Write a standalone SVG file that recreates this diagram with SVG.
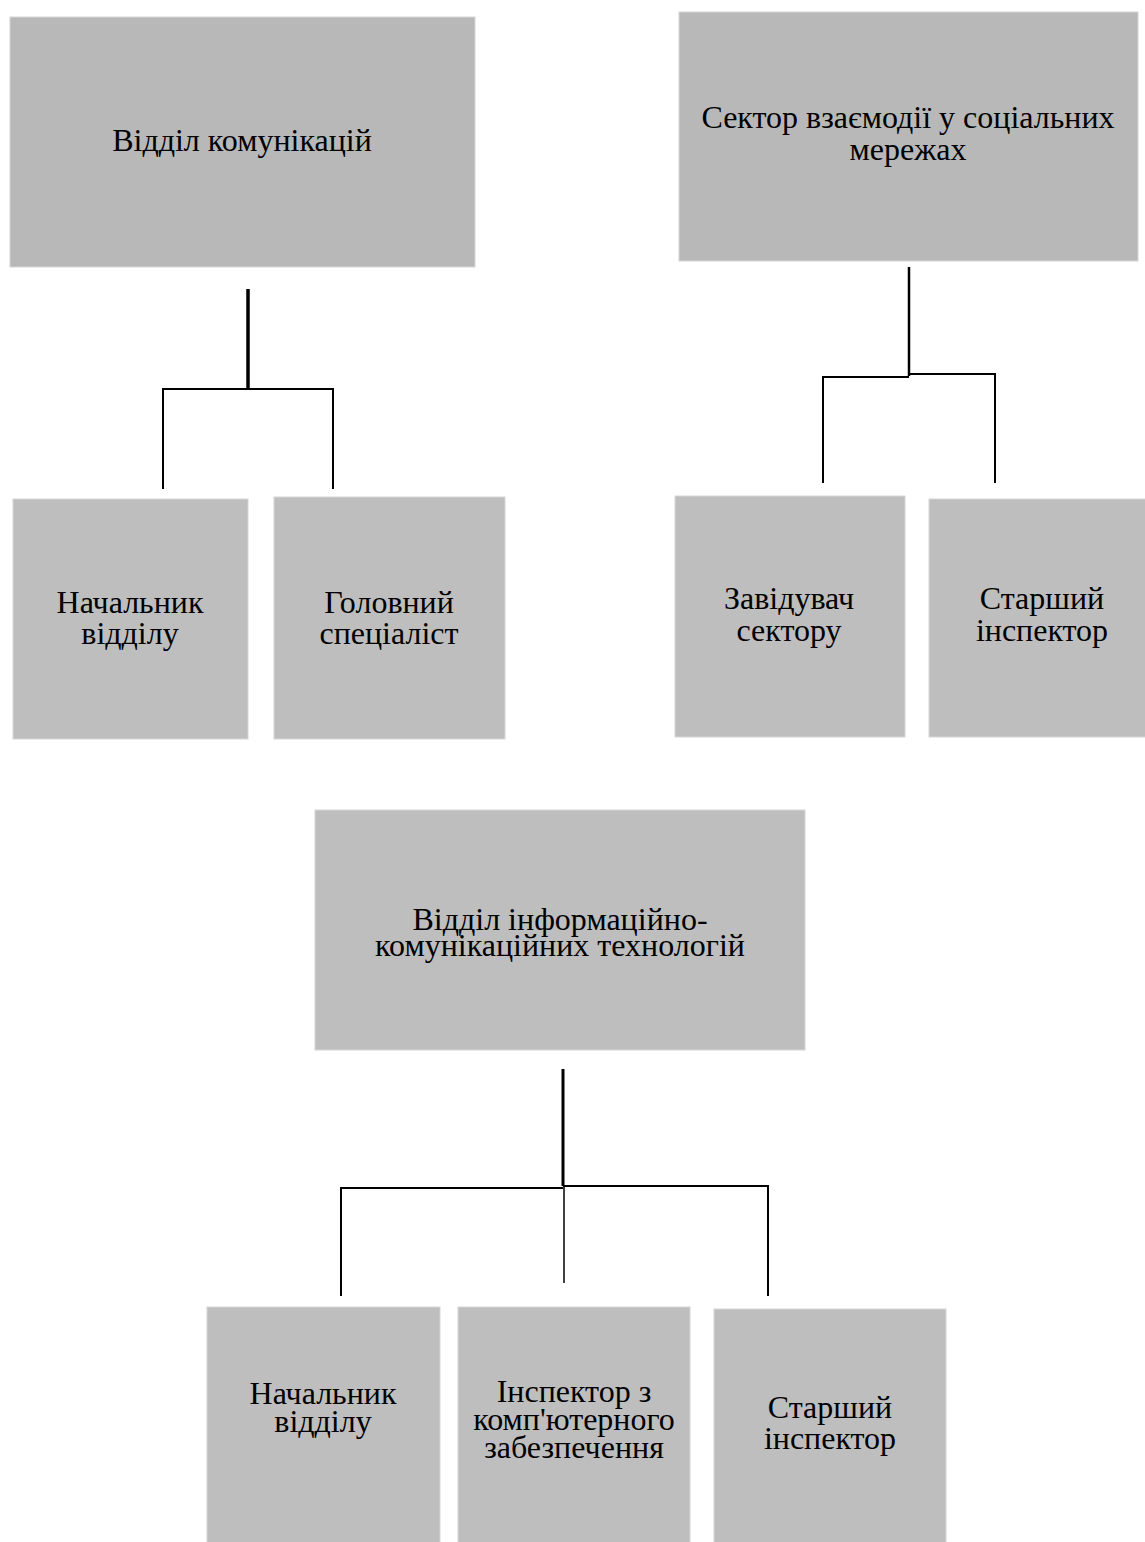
<svg xmlns="http://www.w3.org/2000/svg" width="1145" height="1542" viewBox="0 0 1145 1542">
<style>
.box{fill:#bebebe;stroke:#d6d6d6;stroke-width:1}
.dark{fill:#b8b8b8}
text{font-family:"Liberation Serif","Times New Roman",serif;font-size:32px;fill:#000;text-anchor:middle}
.ln{stroke:#000;stroke-width:2;fill:none}
.thick{stroke:#000;stroke-width:3.5;fill:none}
</style>
<rect width="1145" height="1542" fill="#fff"/>
<g id="n-vk"><rect class="box dark" x="10" y="17" width="465" height="250"/><text x="242" y="151">Відділ комунікацій</text></g>
<g id="n-sv"><rect class="box dark" x="679" y="12" width="459" height="249"/><text x="908" y="128">Сектор взаємодії у соціальних</text><text x="908" y="160">мережах</text></g>
<g id="n-nv1"><rect class="box" x="13" y="499" width="235" height="240"/><text x="130" y="613">Начальник</text><text x="130" y="644">відділу</text></g>
<g id="n-gs"><rect class="box" x="274" y="497" width="231" height="242"/><text x="389" y="613">Головний</text><text x="389" y="644">спеціаліст</text></g>
<g id="n-zs"><rect class="box" x="675" y="496" width="230" height="241"/><text x="789" y="609">Завідувач</text><text x="789" y="641">сектору</text></g>
<g id="n-si1"><rect class="box" x="929" y="499" width="220" height="238"/><text x="1042" y="609">Старший</text><text x="1042" y="641">інспектор</text></g>
<g id="n-ikt"><rect class="box" x="315" y="810" width="490" height="240"/><text x="560" y="930">Відділ інформаційно-</text><text x="560" y="956">комунікаційних технологій</text></g>
<g id="n-nv2"><rect class="box" x="207" y="1307" width="233" height="240"/><text x="323" y="1404">Начальник</text><text x="323" y="1432">відділу</text></g>
<g id="n-ik"><rect class="box" x="458" y="1307" width="232" height="240"/><text x="574" y="1402">Інспектор з</text><text x="574" y="1430">комп'ютерного</text><text x="574" y="1458">забезпечення</text></g>
<g id="n-si2"><rect class="box" x="714" y="1309" width="232" height="240"/><text x="830" y="1418">Старший</text><text x="830" y="1449">інспектор</text></g>
<g id="connectors">
<path class="thick" d="M248 289 V389"/>
<path class="ln" d="M163 489 V389 H333 V489"/>
<path class="thick" d="M909 267 V376" style="stroke-width:2.5"/>
<path class="ln" d="M823 483 V377 H909 M909 374 H995 V483"/>
<path class="thick" d="M563 1069 V1186" style="stroke-width:3"/>
<path class="ln" d="M341 1296 V1188 H563 M563 1186 H768 V1296"/>
<path class="ln" d="M564 1186 V1283" style="stroke-width:1.5"/>
</g>
</svg>
